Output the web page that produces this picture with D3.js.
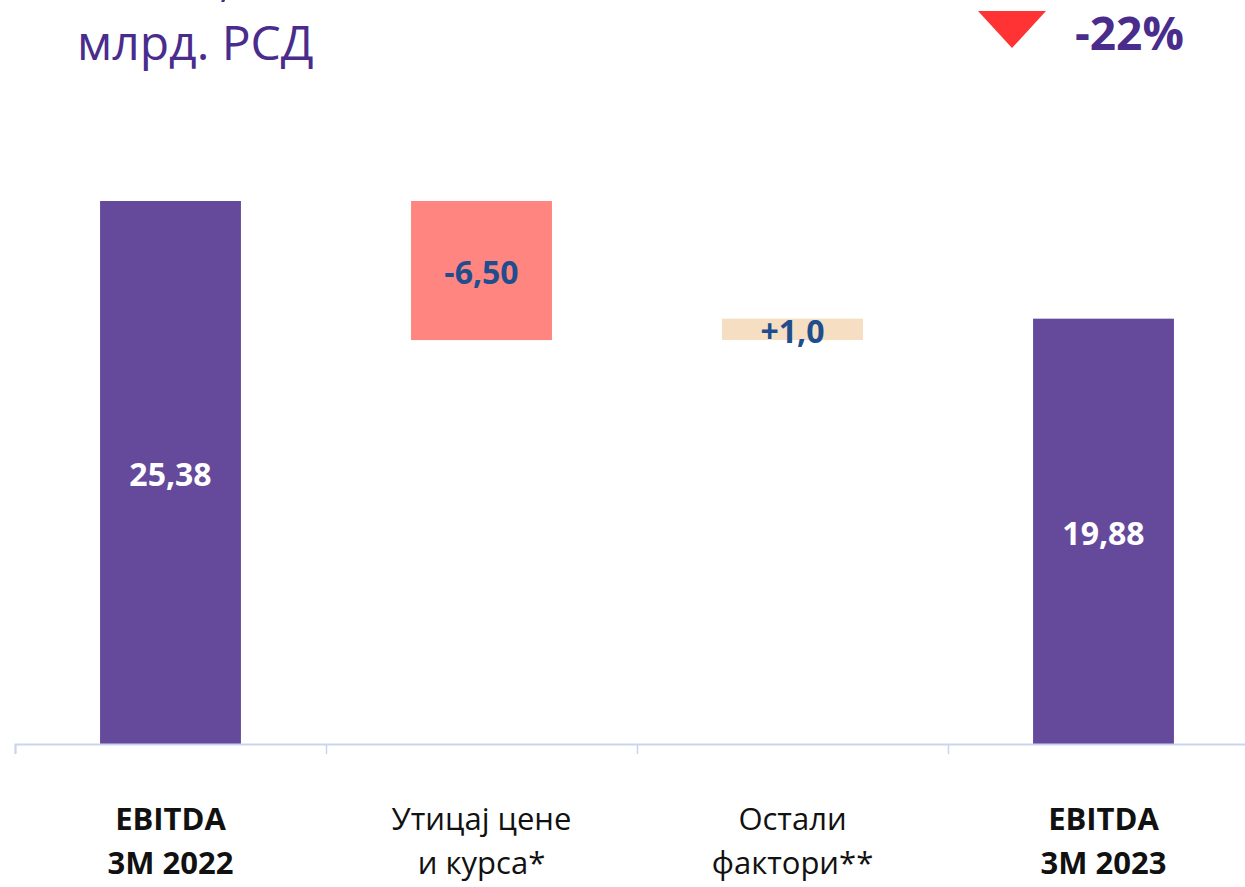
<!DOCTYPE html>
<html>
<head>
<meta charset="utf-8">
<script src="https://cdn.jsdelivr.net/npm/d3@7"></script>
<style>
  body { margin: 0; background: #fff; }
  svg { display: block; font-family: "Open Sans", sans-serif; }
</style>
</head>
<body>
<div class="chart"></div>
<script>
// waterfall data
const categories = ["EBITDA|3M 2022", "Утицај цене|и курса*", "Остали|фактори**", "EBITDA|3M 2023"]
const kinds = ["total", "delta", "delta", "total"]
const values = [25.38, -6.50, 1.0, 19.88]
const valueLabels = ["25,38", "-6,50", "+1,0", "19,88"]
const changeLabel = "-22%"

const width = 1245, height = 887
const margin = ({top: 201, bottom: 143, left: 15})

const svg = d3.select('.chart').append('svg')
    .attr("width", width)
    .attr("height", height)

// running totals for floating bars
let run = 0
const bars = values.map((v, i) => {
    let y0, y1
    if (kinds[i] === "total") { y0 = 0; y1 = v; run = v }
    else { y0 = run; y1 = run + v; run = y1 }
    return {cat: categories[i], kind: kinds[i], v, lo: Math.min(y0, y1), hi: Math.max(y0, y1), label: valueLabels[i], i}
})

const xScale = d3.scaleBand()
    .domain(categories)
    .range([margin.left, margin.left + 311 * 4])
    .paddingInner(0.547)
    .paddingOuter(0.2735)

const yScale = d3.scaleLinear()
    .domain([0, d3.max(values)])
    .range([height - margin.bottom, margin.top])

const fill = d => d.kind === "total" ? "#654A9B" : (d.v < 0 ? "#FF8580" : "#F5DEC1")

svg.selectAll('.bar')
    .data(bars)
    .enter()
    .append('rect')
    .attr('class', 'bar')
    .attr('x', d => xScale(d.cat))
    .attr('width', xScale.bandwidth())
    .attr('y', d => yScale(d.hi))
    .attr('height', d => yScale(d.lo) - yScale(d.hi))
    .style('fill', fill)

svg.selectAll('.val')
    .data(bars)
    .enter()
    .append('text')
    .attr('class', 'val')
    .attr('x', d => xScale(d.cat) + xScale.bandwidth() / 2)
    .attr('y', d => (yScale(d.lo) + yScale(d.hi)) / 2)
    .attr('dy', '0.42em')
    .attr('text-anchor', 'middle')
    .style('font-size', '32px')
    .style('font-weight', 700)
    .style('fill', d => d.kind === "total" ? "#fff" : "#1F4E8E")
    .text(d => d.label)

// axis with ticks on the band edges
const edge = d3.scaleLinear().domain([0, 4]).range([margin.left, margin.left + 311 * 4])
const axis = svg.append("g")
    .attr("class", "axis x-axis")
    .attr("transform", `translate(0, ${height - margin.bottom})`)
    .call(d3.axisBottom(edge).tickValues([0, 1, 2, 3, 4]).tickFormat("").tickSizeOuter(0).tickSize(10))
axis.select(".domain").attr("stroke", "#C9D5EE").attr("stroke-width", 2)
axis.selectAll(".tick line").attr("stroke", "#C9D5EE").attr("stroke-width", 1.5)

// category labels
const cat = svg.selectAll('.cat')
    .data(bars)
    .enter()
    .append('text')
    .attr('class', 'cat')
    .attr('x', d => xScale(d.cat) + xScale.bandwidth() / 2)
    .attr('y', 830)
    .attr('text-anchor', 'middle')
    .style('font-size', '31px')
    .style('font-weight', d => d.kind === "total" ? 700 : 400)
    .style('fill', '#111')
cat.selectAll('tspan')
    .data(d => d.cat.split("|").map(t => ({t, x: xScale(d.cat) + xScale.bandwidth() / 2})))
    .enter()
    .append('tspan')
    .attr('x', d => d.x)
    .attr('dy', (d, i) => i ? 44 : 0)
    .text(d => d.t)

// title (first line cut off at the top)
svg.append('text')
    .attr('x', 232).attr('y', -4)
    .attr('text-anchor', 'end')
    .style('font-size', '49px')
    .style('fill', '#4A2C8C')
    .text("EBITDA,")
svg.append('text')
    .attr('x', 77).attr('y', 60)
    .style('font-size', '48px')
    .style('fill', '#4A2C8C')
    .text("млрд. РСД")

// change marker
svg.append('path')
    .attr('d', d3.line()([[978, 11], [1046, 11], [1012, 48]]) + "Z")
    .style('fill', '#FF3333')
svg.append('text')
    .attr('x', 1075).attr('y', 50)
    .style('font-size', '46px')
    .style('font-weight', 700)
    .style('fill', '#4A2C8C')
    .text(changeLabel)
</script>
</body>
</html>
